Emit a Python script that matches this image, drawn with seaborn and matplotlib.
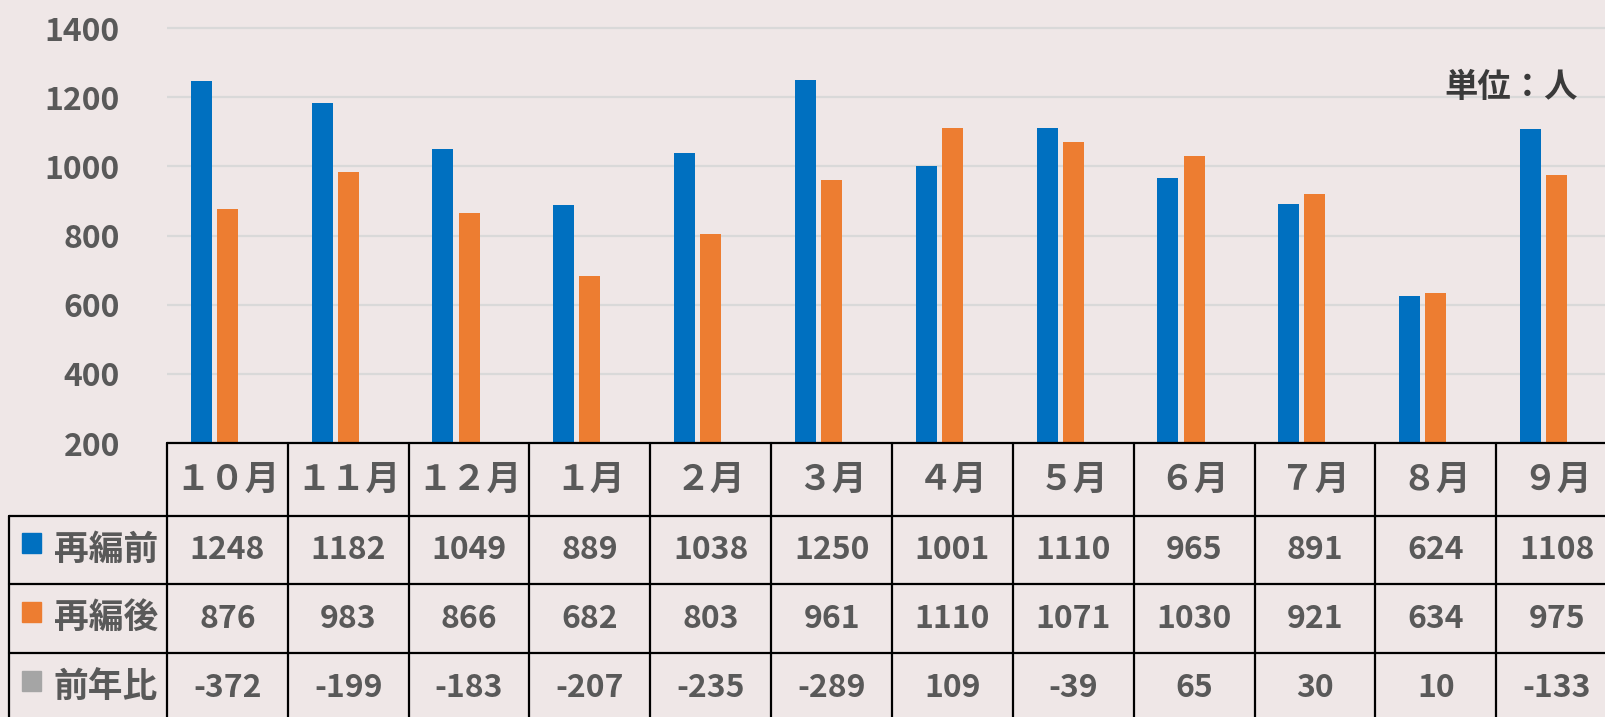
import matplotlib.pyplot as plt
import matplotlib.transforms as mtransforms
from matplotlib.patches import Rectangle
import seaborn as sns
import pandas as pd

# data
months = ['１０月', '１１月', '１２月', '１月', '２月', '３月',
          '４月', '５月', '６月', '７月', '８月', '９月']
series = ['再編前', '再編後', '前年比']
before = [1248, 1182, 1049, 889, 1038, 1250, 1001, 1110, 965, 891, 624, 1108]
after = [876, 983, 866, 682, 803, 961, 1110, 1071, 1030, 921, 634, 975]
yoy = [-372, -199, -183, -207, -235, -289, 109, -39, 65, 30, 10, -133]
colors = ['#0070C0', '#ED7D31', '#A5A5A5']

df = pd.DataFrame({
    'month': months * 3,
    'series': [s for s in series for _ in months],
    'value': before + after + yoy,
})

sns.set_style('white')
plt.rcParams['font.family'] = ['Noto Sans CJK JP', 'DejaVu Sans']
bg = '#EFE7E7'
txt = '#595959'

W, H = 1606, 717
fig = plt.figure(figsize=(W / 100, H / 100), dpi=100, facecolor=bg)
ax = fig.add_axes([167 / W, 274 / H, 1450 / W, 443 / H])
ax.set_facecolor(bg)

sns.barplot(data=df, x='month', y='value', hue='series', palette=colors,
            width=0.65, gap=0.2, order=months, hue_order=series,
            saturation=1, linewidth=0, legend=False, ax=ax)

ax.set_ylim(200, 1481)
ax.set_xlim(-0.5, 11.5)
ax.set_yticks(range(200, 1401, 200))
ax.yaxis.grid(True, color='#D9D9D9', lw=1.6)
ax.set_axisbelow(True)
ax.tick_params(axis='y', length=0, pad=34, labelsize=23, labelcolor=txt)
for t in ax.get_yticklabels():
    t.set_fontweight('bold')
ax.set_xticks([])
ax.set_xlabel('')
ax.set_ylabel('')
for s in ax.spines.values():
    s.set_visible(False)

# data table under the plot
tr = mtransforms.blended_transform_factory(ax.transData, ax.transAxes)
col_w = 120.8
def yax(py):
    return (443 - py) / 443
def xd(px):
    return -0.5 + (px - 167) / col_w

lw = 1.6
row_edges = [443, 516, 584, 653, 725]
# horizontal lines
ax.plot([-0.5, 12.5], [yax(443)] * 2, color='black', lw=lw, transform=tr, clip_on=False)
for py in row_edges[1:]:
    ax.plot([xd(9), 12.5], [yax(py)] * 2, color='black', lw=lw, transform=tr, clip_on=False)
# vertical lines
for i in range(13):
    ax.plot([i - 0.5] * 2, [yax(443), yax(725)], color='black', lw=lw,
            transform=tr, clip_on=False)
ax.plot([xd(9)] * 2, [yax(516), yax(725)], color='black', lw=lw,
        transform=tr, clip_on=False)

centers = [479.5, 550, 618.5, 688]
for i, m in enumerate(months):
    ax.text(i, yax(centers[0]), m, ha='center', va='center', fontsize=25,
            fontweight='bold', color=txt, transform=tr, clip_on=False)
for r, vals in enumerate([before, after, yoy]):
    for i, v in enumerate(vals):
        ax.text(i, yax(centers[r + 1]), str(v), ha='center', va='center',
                fontsize=23, fontweight='bold', color=txt, transform=tr,
                clip_on=False)
    ax.add_patch(Rectangle((xd(22), yax(centers[r + 1] + 3)), 19 / col_w, 20 / 443,
                           color=colors[r], transform=tr, clip_on=False))
    ax.text(xd(106), yax(centers[r + 1] - 1), series[r], ha='center', va='center',
            fontsize=25, fontweight='bold', color=txt, transform=tr, clip_on=False)

fig.text(1578 / W, 1 - 88 / H, '単位：人', ha='right', va='center',
         fontsize=24, fontweight='bold', color='#3A3A3A')

fig.savefig('out.png', dpi=100, facecolor=bg)
